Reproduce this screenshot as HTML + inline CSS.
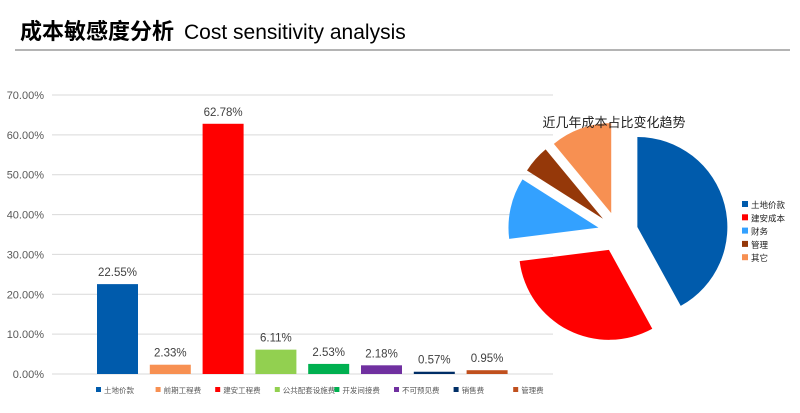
<!DOCTYPE html>
<html><head><meta charset="utf-8"><style>
body{margin:0;background:#fff;width:800px;height:413px;overflow:hidden;font-family:"Liberation Sans","Noto Sans CJK SC",sans-serif}
svg{position:absolute;left:0;top:0}
</style></head><body>
<svg width="800" height="413">
<text x="20" y="39" font-size="22" font-weight="bold" fill="#000" font-family="Liberation Sans,Noto Sans CJK SC,sans-serif">成本敏感度分析</text>
<text x="184" y="39" font-size="21" fill="#000">Cost sensitivity analysis</text>
<line x1="15" y1="50" x2="790" y2="50" stroke="#888" stroke-width="1.2"/>
<g id="bar"></g>
<g id="pie"></g>
</svg>
<script>
const cats=["土地价款","前期工程费","建安工程费","公共配套设施费","开发间接费","不可预见费","销售费","管理费"];
const vals=[22.55,2.33,62.78,6.11,2.53,2.18,0.57,0.95];
const barColors=["#005BAC","#F79052","#FF0000","#92D050","#00B050","#7030A0","#002E66","#C0501E"];
const yTicks=[0,10,20,30,40,50,60,70];
const pieCats=["土地价款","建安成本","财务","管理","其它"];
const pieVals=[42,31,11,5,11];
const pieColors=["#005BAC","#FF0000","#33A1FF","#953809","#F79052"];
const NS="http://www.w3.org/2000/svg";
function mk(t,a,p){const e=document.createElementNS(NS,t);for(const k in a)e.setAttribute(k,a[k]);p.appendChild(e);return e;}
const bar=document.getElementById('bar');
const y=v=>374-v*(279/70);
const xc=i=>117.5+i*52.8;
yTicks.forEach(t=>{
 const l=mk('line',{x1:52,x2:553,y1:y(t),y2:y(t),stroke:'#d9d9d9','stroke-width':1},bar);
 
 
 const tx=mk('text',{x:44,y:y(t)+4,'font-size':11,fill:'#595959','text-anchor':'end'},bar);
 tx.textContent=t.toFixed(2)+'%';
 
 
});
vals.forEach((v,i)=>{
 const r=mk('rect',{x:xc(i)-20.5,y:y(v),width:41,height:374-y(v),fill:barColors[i]},bar);
 
 
 const tx=mk('text',{x:xc(i),y:y(v)-8,'font-size':11.5,fill:'#404040','text-anchor':'middle'},bar);
 tx.textContent=v.toFixed(2)+'%';
 
 
 const lx=96+i*59.6;
 const s=mk('rect',{x:lx,y:387,width:5,height:5,fill:barColors[i]},bar);
 
 
 const lt=mk('text',{x:lx+8,y:393,'font-size':7.5,fill:'#595959'},bar);
 lt.textContent=cats[i];
 
 
});
const pie=document.getElementById('pie');
const cx=618,cy=232,R=90,ex=20;
const tot=pieVals.reduce((a,b)=>a+b,0);
let a0=0;
pieVals.forEach((v,i)=>{
 const a1=a0+v/tot*2*Math.PI, am=(a0+a1)/2;
 const ox=cx+ex*Math.sin(am), oy=cy-ex*Math.cos(am);
 const p=(a)=>[ox+R*Math.sin(a),oy-R*Math.cos(a)];
 const [x0,y0]=p(a0),[x1,y1]=p(a1);
 const d=`M${ox},${oy}L${x0},${y0}A${R},${R} 0 ${a1-a0>Math.PI?1:0} 1 ${x1},${y1}Z`;
 const s=mk('path',{d:d,fill:pieColors[i]},pie);
 
 
 a0=a1;
 const ly=206+i*13.3;
 const sw=mk('rect',{x:742,y:ly-5,width:6,height:6,fill:pieColors[i]},pie);
 
 
 const lt=mk('text',{x:751,y:ly+2,'font-size':8.5,fill:'#222'},pie);
 lt.textContent=pieCats[i];
 
 
});
const pt=mk('text',{x:614,y:127,'font-size':13,fill:'#222','text-anchor':'middle'},pie);
pt.textContent='近几年成本占比变化趋势';


</script>
</body></html>
